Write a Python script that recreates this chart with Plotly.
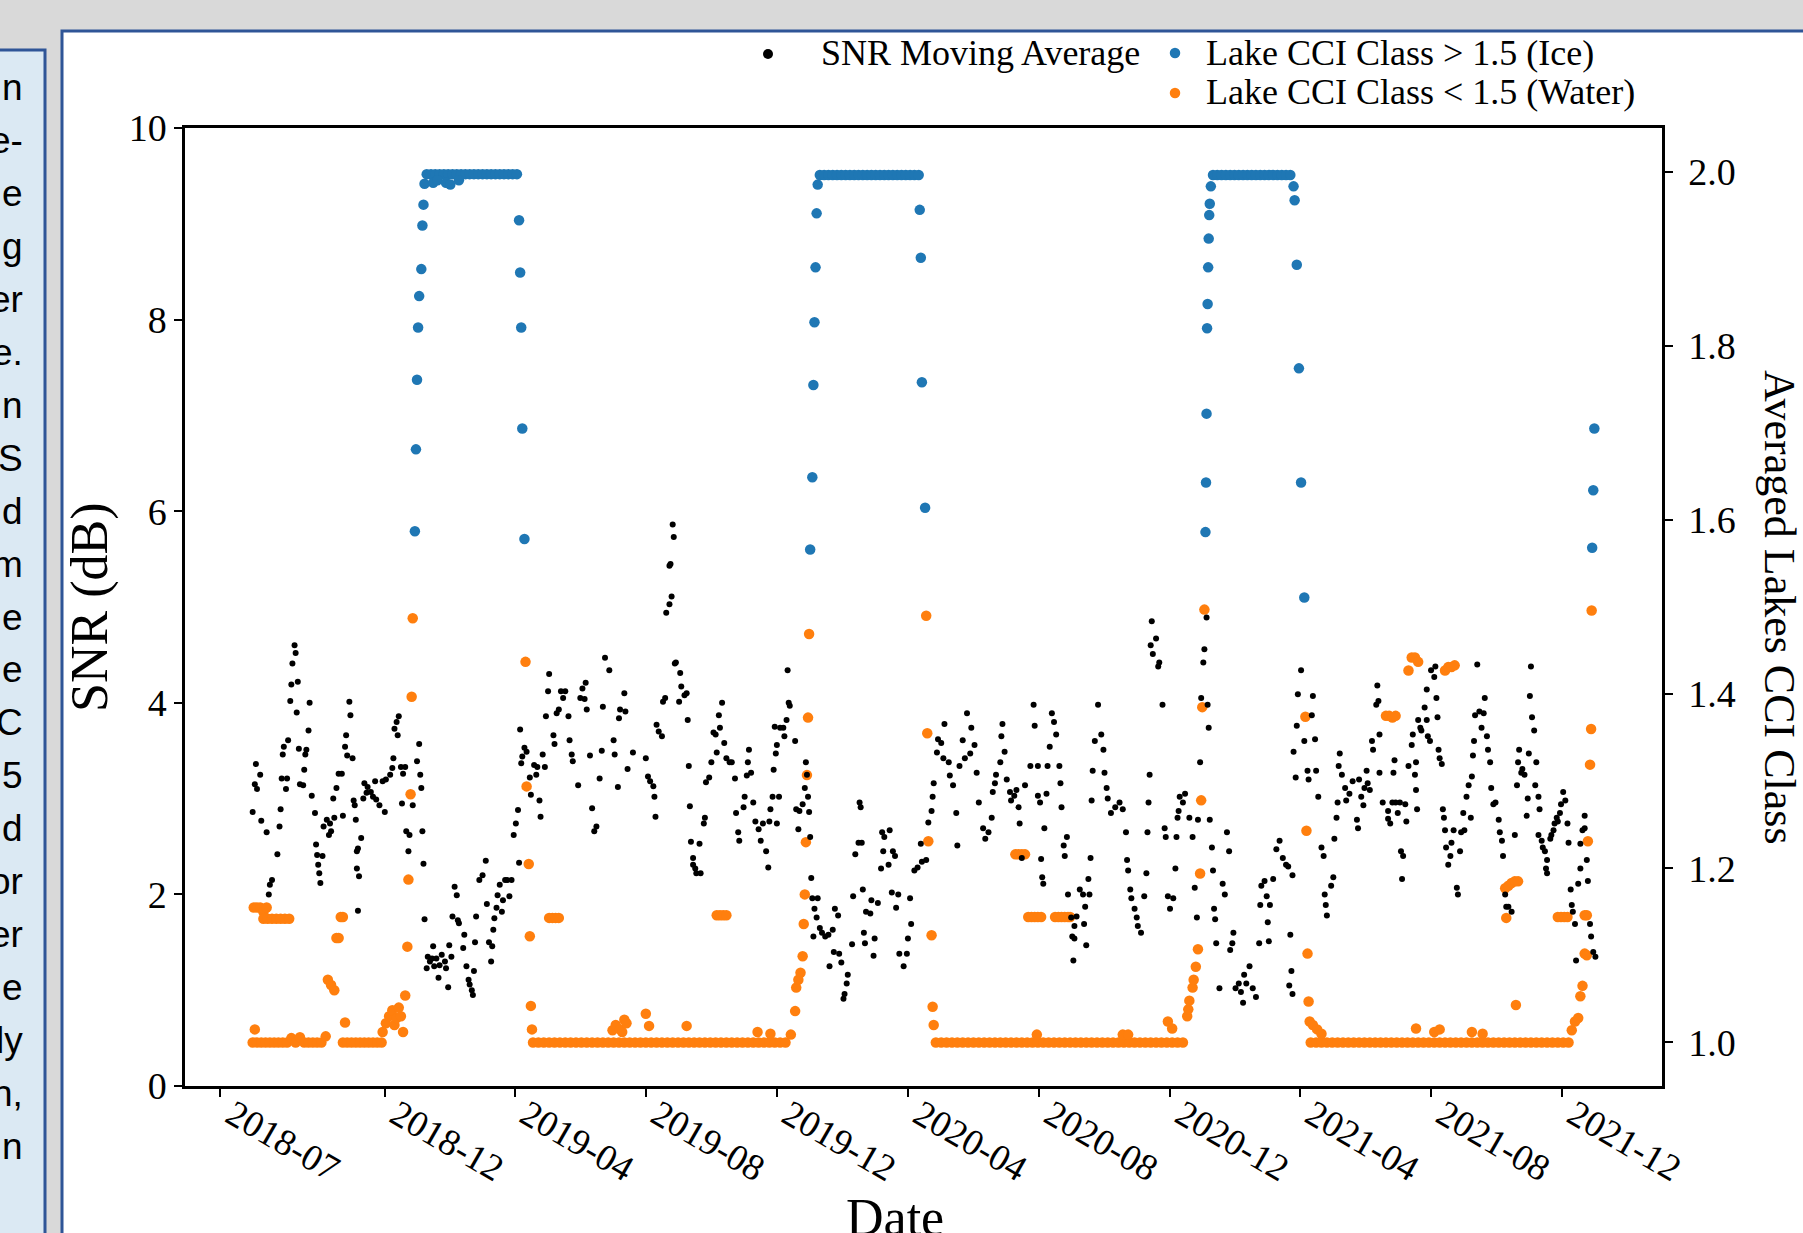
import pandas as pd
import plotly.graph_objects as go

# ---------------------------------------------------------------- data
DAY0 = pd.Timestamp("2018-07-01")   # day offsets below count from this date

# SNR moving average: (day offset, SNR in dB)
snr_series = [
    (30, 2.86), (32, 3.15), (33, 3.36), (34, 3.10), (37, 3.25), (38, 2.77), (43, 2.65), (45, 2.00),
    (46, 2.10), (48, 2.15), (53, 2.42), (55, 2.71), (56, 2.89), (57, 3.21), (58, 3.46), (59, 3.54),
    (61, 3.10), (62, 3.21), (63, 3.61), (65, 4.02), (66, 4.19), (67, 4.41), (69, 4.60), (70, 4.52),
    (71, 3.90), (72, 4.22), (73, 3.52), (74, 3.15), (77, 3.14), (78, 3.30), (79, 3.46), (80, 3.51),
    (82, 3.71), (83, 4.00), (85, 3.03), (88, 2.85), (89, 2.52), (90, 2.41), (91, 2.31), (92, 2.22),
    (93, 2.12), (95, 2.40), (96, 2.71), (99, 2.78), (101, 2.62), (102, 2.74), (103, 2.66), (105, 3.00),
    (106, 2.80), (108, 3.11), (110, 3.26), (113, 3.26), (114, 2.82), (116, 3.54), (117, 3.66), (118, 3.45),
    (120, 4.01), (121, 3.87), (123, 3.42), (124, 2.98), (125, 2.93), (126, 2.78), (127, 2.45), (127, 2.27),
    (128, 2.48), (128, 1.83), (129, 2.19), (131, 2.59), (133, 3.00), (134, 3.16), (136, 3.06), (137, 3.12),
    (140, 3.07), (142, 3.02), (144, 3.18), (145, 2.99), (148, 2.93), (151, 3.18), (153, 2.86), (154, 3.20),
    (158, 3.25), (160, 3.32), (161, 3.42), (162, 3.73), (164, 3.80), (165, 3.66), (166, 3.86), (168, 3.33),
    (169, 2.95), (170, 3.26), (172, 3.33), (173, 2.66), (175, 2.45), (176, 2.62), (179, 2.93), (183, 3.39),
    (185, 3.57), (186, 3.25), (187, 3.11), (188, 2.66), (189, 2.32), (190, 1.74), (192, 1.23), (193, 1.35),
    (195, 1.30), (197, 1.33), (198, 1.46), (199, 1.25), (201, 1.33), (203, 1.13), (204, 1.26), (206, 1.37),
    (209, 1.30), (210, 1.23), (212, 1.03), (213, 1.47), (215, 1.35), (216, 1.77), (218, 2.08), (220, 1.99),
    (221, 1.73), (222, 1.70), (226, 1.44), (227, 1.58), (229, 1.25), (231, 1.11), (232, 1.06), (234, 1.00),
    (235, 0.95), (236, 1.20), (237, 1.50), (238, 1.77), (241, 2.15), (244, 2.20), (247, 2.35), (248, 1.90),
    (250, 1.50), (252, 1.30), (253, 1.46), (254, 1.63), (255, 1.75), (257, 1.86), (258, 1.99), (260, 2.10),
    (262, 1.82), (263, 1.94), (265, 2.15), (267, 2.15), (269, 1.98), (271, 2.15), (273, 2.62), (275, 2.74),
    (277, 2.88), (278, 2.33), (279, 3.72), (280, 3.37), (281, 3.44), (283, 3.53), (285, 3.49), (288, 3.22),
    (289, 3.04), (292, 3.35), (294, 3.25), (295, 3.33), (297, 2.98), (298, 2.81), (300, 3.46), (302, 3.33),
    (303, 3.86), (305, 4.12), (306, 4.30), (310, 3.66), (311, 3.57), (313, 3.89), (315, 3.93), (317, 4.12),
    (319, 4.05), (321, 4.12), (324, 3.86), (325, 3.61), (327, 3.46), (328, 3.39), (333, 3.14), (335, 4.05),
    (337, 4.15), (339, 4.04), (340, 4.21), (341, 3.93), (344, 3.45), (346, 2.90), (348, 2.66), (350, 2.71),
    (353, 3.21), (355, 3.50), (356, 3.96), (358, 4.47), (362, 4.34), (366, 3.61), (367, 3.46), (370, 3.12),
    (371, 3.84), (372, 3.93), (376, 4.10), (377, 3.91), (379, 3.31), (384, 3.48), (396, 3.42), (398, 3.23),
    (400, 3.18), (403, 3.13), (404, 3.02), (405, 2.81), (406, 3.77), (408, 3.70), (411, 3.65), (412, 4.01),
    (414, 4.05), (415, 4.94), (418, 5.03), (418, 5.43), (419, 5.45), (420, 5.11), (421, 5.86), (422, 5.73),
    (423, 4.41), (424, 4.42), (427, 4.01), (428, 4.31), (429, 4.17), (432, 4.08), (434, 4.10), (435, 3.82),
    (436, 3.34), (437, 2.92), (438, 2.55), (440, 2.38), (440, 2.31), (442, 2.27), (443, 2.22), (446, 2.53),
    (447, 2.22), (450, 2.74), (451, 2.80), (452, 3.17), (455, 3.22), (457, 3.38), (459, 3.69), (461, 3.67),
    (462, 3.48), (464, 3.87), (465, 3.74), (467, 4.00), (469, 3.58), (471, 3.42), (474, 3.38), (476, 3.38),
    (479, 3.21), (480, 2.85), (482, 2.65), (483, 2.56), (487, 2.91), (488, 3.02), (490, 3.24), (491, 3.38),
    (492, 3.51), (494, 3.27), (496, 2.96), (498, 2.76), (501, 2.68), (503, 2.56), (505, 2.74), (508, 2.45),
    (510, 2.28), (511, 2.76), (512, 2.89), (514, 3.02), (515, 3.30), (516, 3.75), (517, 3.47), (518, 2.74),
    (518, 3.56), (520, 3.02), (521, 3.74), (524, 3.74), (525, 3.65), (527, 3.82), (528, 4.34), (529, 4.00),
    (530, 3.97), (535, 3.60), (536, 2.89), (538, 2.68), (539, 2.87), (542, 2.94), (544, 3.11), (545, 3.38),
    (546, 3.25), (547, 3.02), (548, 2.86), (549, 2.60), (550, 2.17), (551, 1.96), (552, 1.56), (553, 1.85),
    (555, 1.76), (556, 1.96), (558, 1.65), (560, 1.60), (563, 1.56), (566, 1.58), (567, 1.25), (570, 1.63),
    (571, 1.40), (572, 1.85), (575, 1.78), (576, 1.38), (578, 1.29), (580, 0.91), (581, 0.96), (583, 1.07),
    (584, 1.16), (588, 1.48), (589, 1.98), (591, 2.42), (594, 2.54), (595, 2.96), (596, 2.91), (597, 2.54),
    (598, 2.05), (599, 1.60), (600, 1.49), (601, 1.82), (605, 1.80), (606, 1.94), (608, 1.36), (609, 1.54),
    (612, 1.91), (615, 2.27), (616, 2.65), (617, 2.45), (618, 2.60), (622, 2.31), (623, 2.67), (625, 2.02),
    (626, 2.45), (628, 2.40), (629, 1.86), (631, 2.00), (632, 1.38), (636, 1.25), (639, 1.38), (640, 1.54),
    (642, 1.96), (643, 1.69), (646, 2.25), (649, 2.28), (652, 2.53), (653, 2.34), (657, 2.36), (659, 2.75),
    (662, 2.87), (663, 3.02), (664, 3.16), (667, 3.48), (668, 3.62), (671, 3.58), (673, 3.42), (674, 3.78),
    (678, 3.38), (679, 3.24), (682, 3.14), (685, 2.85), (686, 2.51), (688, 3.34), (691, 3.61), (693, 3.42),
    (695, 3.89), (698, 3.47), (699, 3.74), (702, 3.56), (704, 3.27), (706, 2.96), (710, 2.69), (712, 2.58),
    (715, 2.65), (718, 2.80), (719, 3.07), (721, 3.16), (722, 3.25), (726, 3.38), (727, 3.65), (728, 3.78),
    (730, 3.49), (732, 3.20), (735, 3.07), (736, 2.98), (739, 3.03), (741, 3.09), (743, 2.91), (744, 2.74),
    (746, 2.38), (749, 3.14), (754, 3.34), (757, 3.98), (758, 3.76), (761, 3.34), (761, 3.03), (763, 2.96),
    (764, 2.37), (765, 2.18), (766, 2.11), (767, 2.69), (769, 3.05), (770, 3.34), (772, 3.54), (774, 3.89),
    (776, 3.80), (778, 3.67), (781, 3.34), (782, 3.16), (783, 2.91), (785, 2.51), (786, 2.40), (788, 2.60),
    (789, 2.00), (792, 1.76), (793, 1.56), (794, 1.31), (795, 1.67), (795, 1.54), (797, 1.77), (800, 2.05),
    (803, 2.00), (804, 1.69), (805, 1.87), (806, 1.47), (808, 2.16), (809, 2.00), (810, 2.38), (811, 2.98),
    (812, 3.29), (814, 3.60), (817, 3.98), (820, 3.67), (822, 3.51), (823, 3.27), (825, 3.11), (826, 3.00),
    (829, 2.85), (833, 2.91), (837, 2.96), (840, 2.89), (843, 2.65), (844, 2.36), (845, 2.25), (847, 2.05),
    (848, 1.96), (851, 1.85), (853, 1.76), (854, 1.67), (857, 1.60), (860, 1.98), (862, 2.22), (863, 2.65),
    (864, 2.96), (865, 3.25), (866, 4.60), (867, 4.85), (868, 4.51), (871, 4.67), (873, 4.38), (874, 4.42),
    (877, 3.98), (879, 2.69), (880, 2.60), (882, 1.98), (884, 1.85), (887, 1.96), (889, 2.27), (890, 2.60),
    (891, 2.80), (892, 2.87), (893, 3.02), (896, 2.96), (898, 3.05), (902, 2.80), (905, 2.60), (907, 2.07),
    (909, 1.76), (910, 2.78), (912, 3.38), (913, 4.05), (915, 4.42), (916, 4.56), (918, 4.89), (919, 3.98),
    (920, 3.74), (921, 2.78), (923, 2.49), (924, 2.25), (925, 1.85), (926, 1.74), (927, 1.49), (930, 1.02),
    (933, 2.11), (935, 2.00), (937, 2.65), (939, 2.45), (940, 1.42), (942, 1.49), (943, 1.60), (945, 1.02),
    (948, 1.07), (950, 0.98), (952, 0.87), (953, 1.16), (955, 1.07), (958, 1.25), (961, 1.02), (964, 0.93),
    (967, 1.49), (968, 1.89), (969, 2.09), (972, 2.14), (974, 1.98), (975, 1.71), (976, 1.51), (977, 1.89),
    (980, 2.16), (983, 2.47), (986, 2.56), (989, 2.38), (992, 2.31), (994, 2.29), (995, 1.05), (996, 1.58),
    (997, 1.20), (998, 0.96), (998, 2.20), (999, 3.49), (1001, 3.22), (1002, 3.76), (1003, 4.09), (1006, 4.34),
    (1009, 3.60), (1012, 3.29), (1013, 3.20), (1016, 3.87), (1017, 4.07), (1019, 3.62), (1020, 3.29), (1022, 3.02),
    (1025, 2.49), (1027, 2.40), (1028, 2.00), (1029, 1.89), (1030, 1.78), (1034, 2.09), (1036, 2.18), (1037, 2.58),
    (1039, 2.80), (1040, 2.96), (1041, 3.34), (1042, 3.47), (1044, 3.25), (1047, 3.11), (1048, 2.98), (1051, 3.05),
    (1054, 3.18), (1058, 2.78), (1059, 2.69), (1060, 3.20), (1062, 3.02), (1064, 2.93), (1065, 3.11), (1067, 3.29),
    (1068, 3.16), (1070, 3.09), (1072, 3.60), (1073, 3.51), (1076, 3.98), (1077, 4.18), (1078, 4.02), (1079, 3.67),
    (1079, 3.27), (1082, 2.96), (1087, 2.87), (1087, 2.79), (1089, 2.74), (1091, 2.96), (1092, 3.27), (1093, 3.40),
    (1094, 2.96), (1096, 2.85), (1098, 2.96), (1099, 2.45), (1100, 2.16), (1101, 2.40), (1103, 2.94), (1104, 2.76),
    (1106, 3.34), (1109, 3.56), (1110, 3.67), (1112, 3.25), (1113, 3.09), (1113, 3.38), (1114, 2.89), (1115, 3.82),
    (1117, 3.74), (1118, 3.71), (1121, 3.95), (1123, 3.82), (1123, 4.14), (1124, 3.65), (1126, 3.60), (1127, 4.34),
    (1130, 4.27), (1131, 4.38), (1132, 4.05), (1133, 3.85), (1134, 3.51), (1135, 3.42), (1137, 3.36), (1138, 2.89),
    (1139, 2.80), (1140, 2.67), (1141, 2.49), (1143, 2.31), (1145, 2.40), (1146, 2.54), (1148, 2.67), (1151, 2.07),
    (1152, 2.00), (1154, 2.45), (1155, 2.65), (1157, 2.85), (1158, 2.67), (1160, 3.02), (1162, 3.14), (1164, 2.80),
    (1165, 3.23), (1166, 3.45), (1167, 3.60), (1168, 3.87), (1170, 4.40), (1172, 3.91), (1174, 3.74), (1176, 3.89),
    (1177, 4.05), (1179, 3.65), (1180, 3.51), (1182, 3.38), (1183, 3.11), (1185, 2.94), (1187, 2.96), (1190, 2.78),
    (1191, 2.65), (1193, 2.56), (1194, 2.40), (1196, 2.00), (1197, 1.87), (1199, 1.87), (1202, 1.82), (1205, 2.62),
    (1207, 3.14), (1208, 3.38), (1209, 3.51), (1211, 3.27), (1212, 3.31), (1214, 3.25), (1216, 2.82), (1217, 3.00),
    (1218, 3.47), (1219, 4.07), (1220, 4.38), (1221, 3.85), (1223, 3.71), (1224, 3.14), (1225, 3.38), (1227, 3.02),
    (1227, 2.62), (1228, 2.89), (1230, 2.56), (1231, 2.49), (1233, 2.45), (1234, 2.27), (1235, 2.36), (1235, 2.22),
    (1238, 2.58), (1239, 2.62), (1241, 2.67), (1242, 2.74), (1244, 2.80), (1245, 2.76), (1247, 2.85), (1248, 2.94),
    (1250, 3.07), (1252, 2.98), (1254, 2.74), (1255, 2.54), (1257, 2.05), (1258, 1.89), (1259, 1.82), (1261, 1.69),
    (1262, 1.31), (1264, 2.11), (1266, 2.27), (1266, 2.53), (1268, 2.67), (1270, 2.82), (1270, 2.69), (1272, 2.36),
    (1273, 2.14), (1275, 1.69), (1276, 1.56), (1278, 1.40), (1280, 1.35),
]

# Averaged Lakes CCI class: (day offset, class value)
cci_series = [
    # summer / autumn 2018
    (30, 1.000), (32, 1.015), (34, 1.000), (38, 1.000), (42, 1.000), (46, 1.000), (50, 1.000), (54, 1.000),
    (58, 1.000), (62, 1.000), (66, 1.005), (70, 1.000), (74, 1.006), (78, 1.000), (82, 1.000), (86, 1.000),
    (90, 1.000), (94, 1.000), (98, 1.007),
    (31, 1.155), (34, 1.155), (37, 1.155), (40, 1.150), (43, 1.155),
    (40, 1.142), (44, 1.142), (48, 1.142), (52, 1.142), (56, 1.142), (60, 1.142), (64, 1.142),
    (100, 1.072), (103, 1.066), (106, 1.060), (108, 1.120), (110, 1.120), (112, 1.144), (114, 1.144), (116, 1.023),
    (114, 1.000), (118, 1.000), (122, 1.000), (126, 1.000), (130, 1.000), (134, 1.000), (138, 1.000), (142, 1.000),
    (146, 1.000), (150, 1.000), (151, 1.012), (154, 1.022), (157, 1.030), (160, 1.037), (162, 1.020), (164, 1.028),
    (166, 1.040), (168, 1.030), (170, 1.012),
    # freeze-up and winter 2018/19
    (172, 1.054), (174, 1.110), (175, 1.187), (177, 1.285), (178, 1.397), (179, 1.487), (181, 1.587), (182, 1.681),
    (183, 1.761), (184, 1.821), (185, 1.857), (187, 1.888), (188, 1.938), (189, 1.962), (190, 1.986),
    (192, 1.997), (196, 1.997), (200, 1.997), (204, 1.997), (208, 1.997), (212, 1.997), (216, 1.997), (220, 1.997),
    (224, 1.997), (228, 1.997), (232, 1.997), (236, 1.997), (240, 1.997), (244, 1.997), (248, 1.997), (252, 1.997),
    (256, 1.997), (260, 1.997), (264, 1.997), (268, 1.997), (272, 1.997), (276, 1.997),
    (198, 1.987), (202, 1.990), (210, 1.987), (214, 1.985), (222, 1.990),
    (278, 1.944), (279, 1.884), (280, 1.821), (281, 1.705), (283, 1.578), (284, 1.437), (285, 1.294), (287, 1.205),
    (288, 1.122), (289, 1.042), (290, 1.015),
    # open water 2019
    (291, 1.000), (296, 1.000), (301, 1.000), (306, 1.000), (311, 1.000), (316, 1.000), (321, 1.000), (326, 1.000),
    (331, 1.000), (336, 1.000), (341, 1.000), (346, 1.000), (351, 1.000), (356, 1.000), (361, 1.000), (366, 1.000),
    (371, 1.000), (376, 1.000), (381, 1.000), (386, 1.000), (391, 1.000), (396, 1.000), (401, 1.000), (406, 1.000),
    (411, 1.000), (416, 1.000), (421, 1.000), (426, 1.000), (431, 1.000), (436, 1.000), (441, 1.000), (446, 1.000),
    (451, 1.000), (456, 1.000), (461, 1.000), (466, 1.000), (471, 1.000), (476, 1.000), (481, 1.000), (486, 1.000),
    (491, 1.000), (496, 1.000), (501, 1.000), (506, 1.000), (511, 1.000), (516, 1.000), (521, 1.000), (526, 1.000),
    (306, 1.143), (309, 1.143), (312, 1.143), (315, 1.143), (365, 1.014), (368, 1.020), (372, 1.015), (374, 1.012),
    (376, 1.026), (378, 1.022), (396, 1.033), (399, 1.019), (434, 1.019), (462, 1.146), (465, 1.146), (468, 1.146),
    (471, 1.146), (500, 1.012), (512, 1.010),
    # freeze-up and winter 2019/20
    (531, 1.009), (535, 1.036), (536, 1.063), (538, 1.072), (540, 1.080), (542, 1.099), (543, 1.136), (544, 1.170),
    (545, 1.230), (546, 1.307), (547, 1.373), (548, 1.469), (549, 1.566), (551, 1.649), (552, 1.755), (553, 1.827),
    (554, 1.890), (555, 1.952), (556, 1.985),
    (558, 1.996), (562, 1.996), (566, 1.996), (570, 1.996), (574, 1.996), (578, 1.996), (582, 1.996), (586, 1.996),
    (590, 1.996), (594, 1.996), (598, 1.996), (602, 1.996), (606, 1.996), (610, 1.996), (614, 1.996), (618, 1.996),
    (622, 1.996), (626, 1.996), (630, 1.996), (634, 1.996), (638, 1.996), (642, 1.996), (646, 1.996), (650, 1.996),
    (651, 1.956), (652, 1.901), (653, 1.758), (656, 1.614), (657, 1.490), (658, 1.355), (659, 1.231), (662, 1.123),
    (663, 1.041), (664, 1.020),
    # open water 2020
    (666, 1.000), (671, 1.000), (676, 1.000), (681, 1.000), (686, 1.000), (691, 1.000), (696, 1.000), (701, 1.000),
    (706, 1.000), (711, 1.000), (716, 1.000), (721, 1.000), (726, 1.000), (731, 1.000), (736, 1.000), (741, 1.000),
    (746, 1.000), (751, 1.000), (756, 1.000), (761, 1.000), (766, 1.000), (771, 1.000), (776, 1.000), (781, 1.000),
    (786, 1.000), (791, 1.000), (796, 1.000), (801, 1.000), (806, 1.000), (811, 1.000), (816, 1.000), (821, 1.000),
    (826, 1.000), (831, 1.000), (836, 1.000), (841, 1.000), (846, 1.000), (851, 1.000), (856, 1.000), (861, 1.000),
    (866, 1.000), (871, 1.000), (876, 1.000), (881, 1.000), (886, 1.000), (891, 1.000), (896, 1.000),
    (740, 1.216), (743, 1.216), (746, 1.216), (749, 1.216), (752, 1.144), (755, 1.144), (758, 1.144), (761, 1.144),
    (764, 1.144), (777, 1.144), (780, 1.144), (783, 1.144), (786, 1.144), (789, 1.144), (791, 1.144),
    (760, 1.009), (840, 1.009), (845, 1.009), (882, 1.024), (886, 1.016),
    # freeze-up and winter 2020/21
    (900, 1.030), (901, 1.038), (902, 1.048), (905, 1.063), (906, 1.072), (908, 1.087), (910, 1.107), (912, 1.194),
    (913, 1.278), (914, 1.385), (916, 1.497), (917, 1.586), (917.5, 1.643), (918, 1.722), (918.5, 1.820),
    (919, 1.848), (919.5, 1.890), (920, 1.923), (920.5, 1.950), (921, 1.963), (922, 1.983),
    (924, 1.996), (928, 1.996), (932, 1.996), (936, 1.996), (940, 1.996), (944, 1.996), (948, 1.996), (952, 1.996),
    (956, 1.996), (960, 1.996), (964, 1.996), (968, 1.996), (972, 1.996), (976, 1.996), (980, 1.996), (984, 1.996),
    (988, 1.996), (992, 1.996), (996, 1.996),
    (999, 1.983), (1000, 1.967), (1002, 1.893), (1004, 1.774), (1006, 1.643), (1009, 1.511), (1010, 1.374),
    (1011, 1.243), (1012, 1.102), (1013, 1.047), (1014, 1.024),
    # open water 2021
    (1015, 1.000), (1020, 1.000), (1025, 1.000), (1030, 1.000), (1035, 1.000), (1040, 1.000), (1045, 1.000),
    (1050, 1.000), (1055, 1.000), (1060, 1.000), (1065, 1.000), (1070, 1.000), (1075, 1.000), (1080, 1.000),
    (1085, 1.000), (1090, 1.000), (1095, 1.000), (1100, 1.000), (1105, 1.000), (1110, 1.000), (1115, 1.000),
    (1120, 1.000), (1125, 1.000), (1130, 1.000), (1135, 1.000), (1140, 1.000), (1145, 1.000), (1150, 1.000),
    (1155, 1.000), (1160, 1.000), (1165, 1.000), (1170, 1.000), (1175, 1.000), (1180, 1.000), (1185, 1.000),
    (1190, 1.000), (1195, 1.000), (1200, 1.000), (1205, 1.000), (1210, 1.000), (1215, 1.000), (1220, 1.000),
    (1225, 1.000), (1230, 1.000), (1235, 1.000), (1240, 1.000), (1245, 1.000), (1250, 1.000), (1255, 1.000),
    (1017, 1.020), (1021, 1.015), (1025, 1.010), (1085, 1.375), (1088, 1.375), (1091, 1.373), (1094, 1.375),
    (1106, 1.427), (1109, 1.442), (1112, 1.442), (1115, 1.437), (1113, 1.016), (1130, 1.012), (1135, 1.015),
    (1140, 1.427), (1143, 1.431), (1146, 1.431), (1149, 1.433), (1165, 1.012), (1175, 1.010),
    (1196, 1.177), (1199, 1.180), (1202, 1.183), (1205, 1.185), (1208, 1.185), (1197, 1.143), (1206, 1.043),
    (1245, 1.144), (1248, 1.144), (1251, 1.144), (1254, 1.144), (1270, 1.146), (1272, 1.146),
    # freeze-up 2021/22
    (1258, 1.014), (1261, 1.024), (1264, 1.028), (1266, 1.053), (1268, 1.065), (1270, 1.102), (1272, 1.100),
    (1273, 1.231), (1275, 1.319), (1276, 1.360), (1276.5, 1.496), (1277, 1.568), (1278, 1.634), (1279, 1.705),
]

ICE_THRESHOLD = 1.5

x_range = ["2018-05-29", "2022-03-04"]
tick_dates = ["2018-07-01", "2018-12-01", "2019-04-01", "2019-08-01", "2019-12-01", "2020-04-01",
              "2020-08-01", "2020-12-01", "2021-04-01", "2021-08-01", "2021-12-01"]
tick_text = ["2018-07", "2018-12", "2019-04", "2019-08", "2019-12", "2020-04",
             "2020-08", "2020-12", "2021-04", "2021-08", "2021-12"]
snr_ticks = [0, 2, 4, 6, 8, 10]
cci_ticks = [1.0, 1.2, 1.4, 1.6, 1.8, 2.0]

# tail ends of the neighbouring text column
side_text = ["n", "e-", "e", "g", "er", "e.", "n", "S", "d", "m", "e", "e", "C", "5", "d",
             "or", "er", "e", "ly", "n,", "n"]

# ---------------------------------------------------------------- series prep
def to_dates(days):
    return [DAY0 + pd.Timedelta(days=float(d)) for d in days]

snr_day, snr_db = zip(*snr_series)
water = [(d, v) for d, v in cci_series if v < ICE_THRESHOLD]
ice = [(d, v) for d, v in cci_series if v > ICE_THRESHOLD]
water_day, water_val = zip(*water)
ice_day, ice_val = zip(*ice)

BLUE = "#1f77b4"
ORANGE = "#ff7f0e"
PANEL_LINE = "#2f5597"
SERIF = "Liberation Serif"
SANS = "Liberation Sans"

# ---------------------------------------------------------------- geometry (px)
W, H = 1803, 1233
PL, PR, PT, PB = 185, 1662, 128, 1086   # plot-area edges
PW, PH = PR - PL, PB - PT


def xp(px):
    return (px - PL) / PW


def yp(py):
    return (PB - py) / PH


fig = go.Figure()

fig.add_trace(go.Scatter(
    x=to_dates(water_day), y=water_val, mode="markers", yaxis="y",
    marker=dict(color=ORANGE, size=10.5, line=dict(width=0)),
    name="Lake CCI Class < 1.5 (Water)", showlegend=False, hoverinfo="skip"))
fig.add_trace(go.Scatter(
    x=to_dates(ice_day), y=ice_val, mode="markers", yaxis="y",
    marker=dict(color=BLUE, size=10.5, line=dict(width=0)),
    name="Lake CCI Class > 1.5 (Ice)", showlegend=False, hoverinfo="skip"))
fig.add_trace(go.Scatter(
    x=to_dates(snr_day), y=snr_db, mode="markers", yaxis="y2",
    marker=dict(color="black", size=6, line=dict(width=0)),
    name="SNR Moving Average", showlegend=False, hoverinfo="skip"))

axis_common = dict(
    showgrid=False, zeroline=False, showline=True, linecolor="black", linewidth=2.5,
    ticks="outside", ticklen=8, tickwidth=1.5, tickcolor="black",
    tickfont=dict(family=SERIF, size=38, color="black"),
)

shapes = [
    # neighbouring text column
    dict(type="rect", xref="paper", yref="paper", layer="below",
         x0=xp(-20), x1=xp(45), y0=yp(1260), y1=yp(50),
         fillcolor="#dbe9f3", line=dict(color=PANEL_LINE, width=3)),
    # chart panel
    dict(type="rect", xref="paper", yref="paper", layer="below",
         x0=xp(62), x1=xp(1830), y0=yp(1260), y1=yp(31),
         fillcolor="white", line=dict(color=PANEL_LINE, width=3)),
]


def dot(cx, cy, d, color):
    return dict(type="circle", xref="paper", yref="paper", layer="above",
                x0=xp(cx - d / 2), x1=xp(cx + d / 2), y0=yp(cy + d / 2), y1=yp(cy - d / 2),
                fillcolor=color, line=dict(width=0))


shapes += [dot(768, 54, 10, "black"), dot(1175, 53, 10.5, BLUE), dot(1175, 93, 10.5, ORANGE)]

annotations = [
    dict(text="SNR Moving Average", x=xp(819), y=yp(53), xanchor="left", yanchor="middle"),
    dict(text="Lake CCI Class > 1.5 (Ice)", x=xp(1204), y=yp(53), xanchor="left", yanchor="middle"),
    dict(text="Lake CCI Class < 1.5 (Water)", x=xp(1204), y=yp(92), xanchor="left", yanchor="middle"),
]
for a in annotations:
    a.update(xref="paper", yref="paper", showarrow=False,
             font=dict(family=SERIF, size=36, color="black"))

annotations += [
    dict(text="SNR (dB)", x=xp(90), y=yp(607), textangle=-90, xref="paper", yref="paper",
         showarrow=False, xanchor="center", yanchor="middle",
         font=dict(family=SERIF, size=52, color="black")),
    dict(text="Averaged Lakes CCI Class", x=xp(1780), y=yp(607), textangle=90, xref="paper",
         yref="paper", showarrow=False, xanchor="center", yanchor="middle",
         font=dict(family=SERIF, size=44, color="black")),
    dict(text="Date", x=xp(895), y=yp(1217), xref="paper", yref="paper", showarrow=False,
         xanchor="center", yanchor="middle", font=dict(family=SERIF, size=52, color="black")),
]

for i, word in enumerate(side_text):
    annotations.append(dict(
        text=word, x=xp(25), y=yp(88 + i * 52.9), xref="paper", yref="paper", showarrow=False,
        xanchor="right", yanchor="middle", font=dict(family=SANS, size=37, color="black")))

fig.update_layout(
    width=W, height=H, autosize=False,
    margin=dict(l=PL, r=W - PR, t=PT, b=H - PB, pad=0),
    paper_bgcolor="#d9d9d9", plot_bgcolor="rgba(0,0,0,0)",
    showlegend=False,
    xaxis=dict(axis_common, type="date", range=x_range, tickvals=tick_dates, ticktext=tick_text,
               tickangle=30, mirror=True, ticklabelshift=12, ticklabelstandoff=-18,
               tickfont=dict(family=SERIF, size=37, color="black")),
    yaxis=dict(axis_common, side="right", range=[0.95, 2.05], tickvals=cci_ticks,
               ticktext=[f"{v:.1f}" for v in cci_ticks], ticklabelstandoff=8),
    yaxis2=dict(axis_common, side="left", overlaying="y", range=[0, 10], tickvals=snr_ticks,
                ticktext=[str(v) for v in snr_ticks]),
    shapes=shapes,
    annotations=annotations,
)

fig.write_html("out.html")
